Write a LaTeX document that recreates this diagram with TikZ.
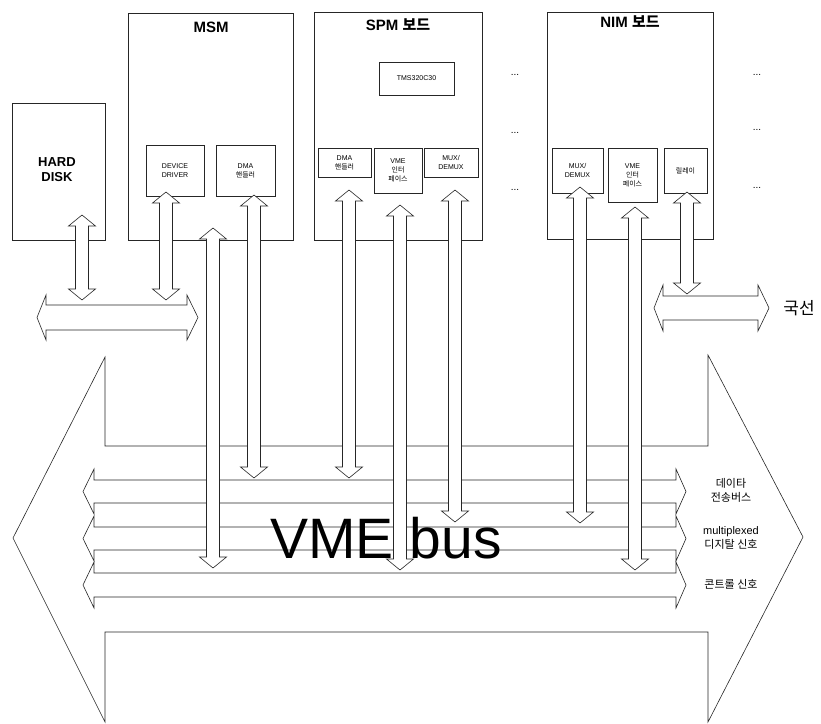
\documentclass[tikz,border=0pt]{standalone}
\usepackage{fontspec}
\setmainfont{Liberation Sans}
\newfontfamily\kr{Noto Sans CJK KR}
\newcommand\fs[2]{\fontsize{#1}{#2}\selectfont}
\newcommand\bx[5]{% name x1 y1 x2 y2
  \node[boxst,anchor=north west,minimum width={#4pt-#2pt},minimum height={#5pt-#3pt}] (#1) at (#2,#3) {};}
\newcommand\vdarr[3]{% cx ytop ybot
  \filldraw[arrst] (#1,#2) -- ({#1+13.5},{#2+11}) -- ({#1+6.5},{#2+11}) -- ({#1+6.5},{#3-11})
    -- ({#1+13.5},{#3-11}) -- (#1,#3) -- ({#1-13.5},{#3-11}) -- ({#1-6.5},{#3-11})
    -- ({#1-6.5},{#2+11}) -- ({#1-13.5},{#2+11}) -- cycle;}
\newcommand\hdarr[8]{% tipL cornerL cornerR tipR headtop bodytop bodybot headbot
  \filldraw[arrst] (#1,{(#5+#8)/2}) -- (#2,#5) -- (#2,#6) -- (#3,#6) -- (#3,#5) -- (#4,{(#5+#8)/2})
    -- (#3,#8) -- (#3,#7) -- (#2,#7) -- (#2,#8) -- cycle;}
\begin{document}
\begin{tikzpicture}[x=1pt,y=-1pt,line width=0.6pt,
  boxst/.style={draw=black!85,fill=white,inner sep=0pt,outer sep=0pt},
  arrst/.style={draw=black!85,fill=white,line join=miter},
  ttl/.style={font=\fs{15}{18}\bfseries},
  sm/.style={font=\fs{7}{9},align=center,inner sep=0pt},
  lbl/.style={font=\fs{11}{14},align=center,inner sep=0pt},
  dots/.style={font=\fs{10}{10},inner sep=0pt}]
\useasboundingbox (0,0) rectangle (821,723);
% boards
\bx{hdd}{12}{103}{105}{240}
\bx{msm}{128}{13}{293}{240}
\bx{spm}{314}{12}{482}{240}
\bx{nim}{547}{12}{713}{239}
% sub boxes
\bx{dd}{146}{145}{204}{196}
\bx{mdma}{216}{145}{275}{196}
\bx{tms}{379}{62}{454}{95}
\bx{sdma}{318}{148}{371}{177}
\bx{svme}{374}{148}{422}{193}
\bx{smux}{424}{148}{478}{177}
\bx{nmux}{552}{148}{603}{193}
\bx{nvme}{608}{148}{657}{202}
\bx{rly}{664}{148}{707}{193}
% texts
\node[font=\fs{13}{15}\bfseries,align=center,inner sep=0pt] (thdd) at (57,170) {HARD\\DISK};
\node[ttl] (tmsm) at (211,27) {MSM};
\node[ttl] (tspm) at (398,25) {SPM {\kr 보드}};
\node[ttl] (tnim) at (630,22) {NIM {\kr 보드}};
\node[sm] (xdd) at (dd) {DEVICE\\DRIVER};
\node[sm] (xmdma) at (mdma) {DMA\\{\kr 핸들러}};
\node[sm] (xtms) at (tms) {TMS320C30};
\node[sm] (xsdma) at (sdma) {DMA\\{\kr 핸들러}};
\node[sm] (xsvme) at (svme) {VME\\{\kr 인터}\\{\kr 페이스}};
\node[sm] (xsmux) at (smux) {MUX/\\DEMUX};
\node[sm] (xnmux) at (nmux) {MUX/\\DEMUX};
\node[sm] (xnvme) at (nvme) {VME\\{\kr 인터}\\{\kr 페이스}};
\node[sm] (xrly) at (rly) {\kr 릴레이};
\foreach \y [count=\i] in {75,133,190} \node[dots] (d1\i) at (515,\y) {...};
\foreach \y [count=\i] in {75,130,188} \node[dots] (d2\i) at (757,\y) {...};
% big VME bus arrow
\filldraw[arrst] (13,538) -- (105,357) -- (105,446) -- (708,446) -- (708,355) -- (803,537)
  -- (708,722) -- (708,632) -- (105,632) -- (105,722) -- cycle;
% inner buses
\hdarr{83}{94}{676}{686}{469}{480}{503}{514}
\hdarr{83}{94}{676}{686}{516}{527}{550}{561}
\hdarr{83}{94}{676}{686}{562}{573}{597}{608}
\node[lbl] (l1) at (731,490) {{\kr 데이타}\\{\kr 전송버스}};
\node[lbl] (l2) at (731,538) {multiplexed\\{\kr 디지탈 신호}};
\node[lbl] (l3) at (731,584) {\kr 콘트롤 신호};
\node[font=\fs{57}{60},inner sep=0pt] (vme) at (386,538) {VME bus};
% small buses
\hdarr{37}{46}{187}{198}{295}{305}{330}{340}
\hdarr{654}{663}{758}{769}{285}{296}{320}{331}
\node[font=\kr\fs{17}{20},inner sep=0pt] (kuk) at (799,308) {국선};
% vertical arrows
\vdarr{82}{215}{300}
\vdarr{166}{192}{300}
\vdarr{213}{228}{568}
\vdarr{254}{195}{478}
\vdarr{349}{190}{478}
\vdarr{400}{205}{570}
\vdarr{455}{190}{522}
\vdarr{580}{187}{523}
\vdarr{635}{207}{570}
\vdarr{687}{192}{294}
\end{tikzpicture}
\end{document}
